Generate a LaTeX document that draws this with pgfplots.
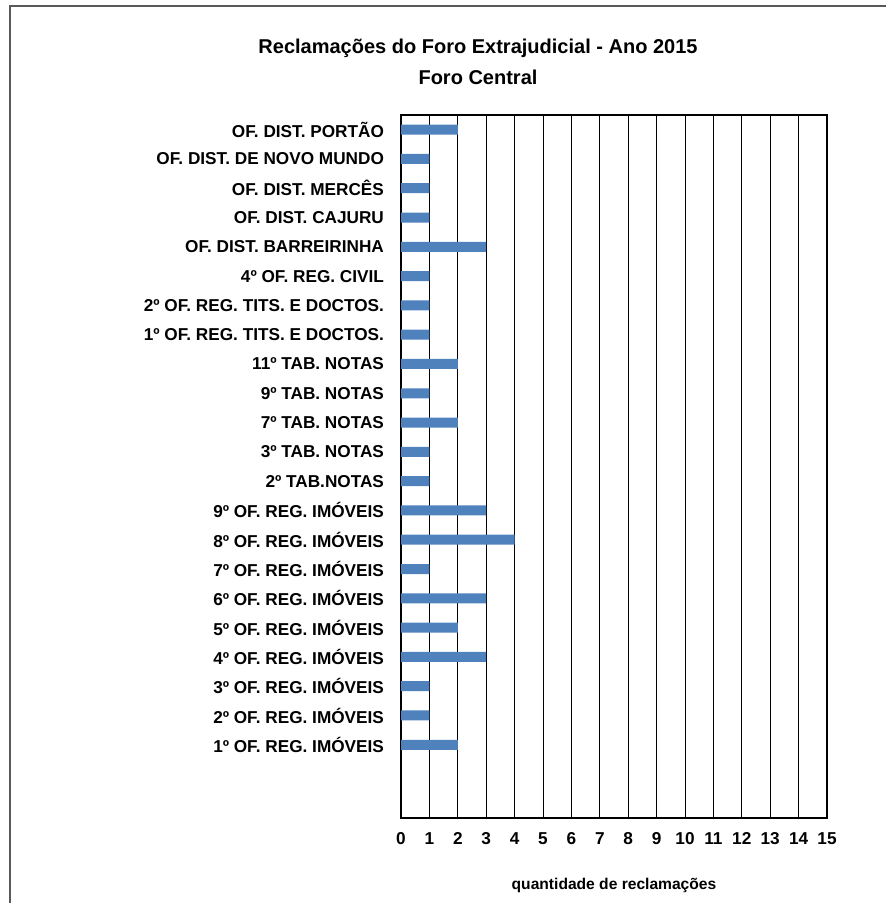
\documentclass[border=0pt]{standalone}
\usepackage{pgfplots}
\pgfplotsset{compat=1.18}
\usepackage{fontspec}
\setmainfont{Liberation Sans}
\definecolor{barblue}{HTML}{4F81BD}
\definecolor{frame}{HTML}{595959}

\begin{document}
\begin{tikzpicture}
% picture in reference pixels, 1px = 0.5pt, y downwards
\useasboundingbox (0,0) rectangle (443pt,-451.5pt);
\draw[frame, line width=1.2pt] (5pt,-451.5pt) -- (5pt,-3pt) -- (443pt,-3pt);

\node[font=\bfseries\fontsize{10}{15.5}\selectfont, align=center] at (239pt,-31pt)
  {Reclamações do Foro Extrajudicial  - Ano 2015\\Foro Central};

\begin{axis}[
    at={(200.5pt,-409pt)}, anchor=south west,
    scale only axis,
    width=213pt, height=351.5pt,
    xbar, bar width=5pt, bar shift=0pt,
    xmin=0, xmax=15, ymin=-2.5, ymax=21.5,
    xtick={0,...,15},
    xmajorgrids=true,
    grid style={black, line width=0.5pt},
    axis line style={black, line width=0.8pt},
    major tick length=0pt,
    ytick={0,...,21},
    yticklabels={
      1º OF. REG. IMÓVEIS, 2º OF. REG. IMÓVEIS, 3º OF. REG. IMÓVEIS,
      4º OF. REG. IMÓVEIS, 5º OF. REG. IMÓVEIS, 6º OF.  REG. IMÓVEIS,
      7º OF. REG. IMÓVEIS, 8º OF. REG. IMÓVEIS, 9º OF. REG. IMÓVEIS,
      2º TAB.NOTAS, 3º TAB. NOTAS, 7º TAB. NOTAS, 9º TAB. NOTAS,
      11º TAB. NOTAS, 1º OF. REG. TITS. E DOCTOS., 2º OF. REG. TITS. E DOCTOS.,
      4º OF. REG. CIVIL, OF. DIST. BARREIRINHA, OF. DIST. CAJURU,
      OF. DIST. MERCÊS, OF. DIST. DE NOVO MUNDO, OF. DIST. PORTÃO},
    /pgf/number format/assume math mode=true,
    yticklabel style={font=\bfseries\fontsize{8.6}{10}\selectfont, xshift=-5pt},
    xticklabel style={font=\bfseries\fontsize{8.6}{10}\selectfont,
      text height=6.5pt, text depth=0pt, anchor=north, yshift=-3pt},
    xlabel={quantidade de reclamações},
    xlabel style={font=\bfseries\fontsize{7.8}{10}\selectfont, yshift=-10pt},
]
\addplot[fill=barblue, draw=none] coordinates {
  (2,0) (1,1) (1,2) (3,3) (2,4) (3,5) (1,6) (4,7) (3,8)
  (1,9) (1,10) (2,11) (1,12) (2,13) (1,14) (1,15) (1,16)
  (3,17) (1,18) (1,19) (1,20) (2,21)};
\end{axis}
\end{tikzpicture}
\end{document}
